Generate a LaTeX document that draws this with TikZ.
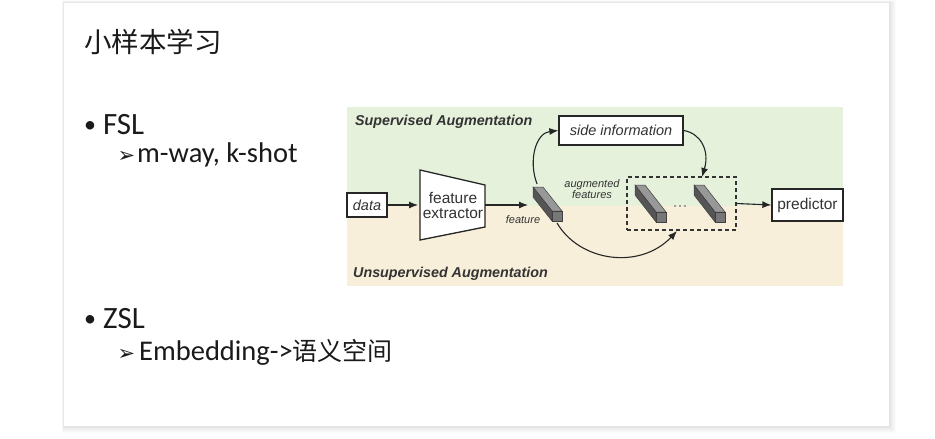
\documentclass[tikz,border=0pt]{standalone}
\usepackage{fontspec}
\setmainfont{Carlito}
\newfontfamily\cjkf{Noto Sans CJK SC}
\newfontfamily\hvf{Liberation Sans}
\newfontfamily\dvf{DejaVu Sans}
\usetikzlibrary{arrows.meta,calc}

\definecolor{sgreen}{HTML}{E5F1DB}
\definecolor{sbeige}{HTML}{F8EFDB}
\definecolor{dtext}{HTML}{333333}
\definecolor{stext}{HTML}{1A1A1A}
\definecolor{rodtop}{HTML}{989898}
\definecolor{rodside}{HTML}{555555}
\definecolor{rodend}{HTML}{777777}

\newcommand\drawrod[4]{%
  \begin{scope}[shift={(#1,#2)}, draw=black!75, line width=0.5pt]
    \filldraw[fill=rodtop] (-10,-10) -- (0,-10) -- (#3,-10+#4) -- (-10+#3,-10+#4) -- cycle;
    \filldraw[fill=rodside] (-10,-10) -- (-10,0) -- (-10+#3,#4) -- (-10+#3,-10+#4) -- cycle;
    \filldraw[fill=rodend] (-10,-10) rectangle (0,0);
  \end{scope}}

\begin{document}
\begin{tikzpicture}[x=1pt,y=-1pt,
  box/.style={draw=black!85, line width=1.3pt, fill=white, inner sep=0pt, text=dtext},
  conn/.style={line width=1.1pt, draw=black!85, -{Latex[length=9pt,width=7pt]}},
  dfont/.style={font=\hvf\fontsize{15.5}{17}\selectfont},
  difont/.style={font=\hvf\itshape\fontsize{14.5}{17}\selectfont},
  sfont/.style={font=\hvf\itshape\fontsize{11}{13}\selectfont, text=dtext, inner sep=0pt},
  regfont/.style={font=\hvf\bfseries\itshape\fontsize{14.3}{17}\selectfont, text=dtext, inner sep=0pt},
  slidetxt/.style={inner sep=0pt, anchor=base west, text=stext},
]
\useasboundingbox (0,0) rectangle (935,439);
\fill[white] (0,0) rectangle (935,439);

% card shadow and card
\foreach \k in {1,...,7}{
  \fill[black, opacity=0.016] (64-\k*0.3, 3-\k*0.4) rectangle (889+\k, 426+\k);
}
\fill[white] (64,3) rectangle (889,426);

% slide texts
\node[slidetxt, font=\cjkf\fontsize{27.5}{30}\selectfont] (title) at (84,52) {小样本学习};
\node[slidetxt, font=\fontsize{24}{28}\selectfont] (b1) at (84,132) {•};
\node[slidetxt, font=\fontsize{31}{34}\selectfont] (fsl) at (103,134) {FSL};
\node[slidetxt, font=\dvf\fontsize{21}{24}\selectfont] (a1) at (117.5,162) {➢};
\node[slidetxt, font=\fontsize{28.5}{32}\selectfont] (mway) at (137,162) {m-way, k-shot};
\node[slidetxt, font=\fontsize{24}{28}\selectfont] (b2) at (84,326) {•};
\node[slidetxt, font=\fontsize{31}{34}\selectfont] (zsl) at (103,328) {ZSL};
\node[slidetxt, font=\dvf\fontsize{21}{24}\selectfont] (a2) at (117.5,360) {➢};
\node[slidetxt, font=\fontsize{28.5}{32}\selectfont] (emb) at (139,360) {Embedding->{\cjkf\fontsize{25}{30}\selectfont 语义空间}};

% diagram background
\fill[sgreen] (347,107) rectangle (843,206);
\fill[sbeige] (347,206) rectangle (843,286);

\node[regfont, anchor=base west] (sup) at (355,125) {Supervised Augmentation};
\node[regfont, anchor=base west] (unsup) at (353,277) {Unsupervised Augmentation};

% data box
\node[box, difont, minimum width=40pt, minimum height=24pt] (data) at (367,205) {data};

% feature extractor
\filldraw[draw=black!85, line width=1.3pt, fill=white] (420,170) -- (485,185) -- (485,227) -- (420,240) -- cycle;
\node[dfont, text=dtext, align=center, inner sep=0pt] (fe) at (453,205) {feature\\[-2pt]extractor};
\coordinate (feW) at (418,205);
\coordinate (feE) at (485,205);

% rods
\drawrod{562}{221}{-19}{-24}
\drawrod{666}{222}{-21}{-27}
\drawrod{725}{222}{-21}{-27}
\coordinate (rodin) at (528,205);
\coordinate (rodtopc) at (537,184);
\coordinate (rodbot) at (557,223);

\node[sfont] (featlab) at (523,220) {feature};
\node[sfont, align=center] (auglab) at (592,189) {augmented\\[-1.5pt]features};

% dots
\foreach \xx in {675,680,685}{\fill[black!70] (\xx,206) circle (0.9pt);}

% dashed box
\node[draw=black!80, line width=1.1pt, dash pattern=on 4pt off 3pt, minimum width=109pt, minimum height=53pt, inner sep=0pt] (aug) at (681.5,203.5) {};
\coordinate (augtop) at (702,177);
\coordinate (augbot) at (677,231);

% side information
\node[box, difont, minimum width=124pt, minimum height=29pt] (side) at (621,130.5) {side information};

% predictor
\node[box, dfont, minimum width=71pt, minimum height=32pt] (pred) at (807.5,205) {predictor};

% connectors
\draw[conn] (data.east) -- (feW);
\draw[conn] (feE) -- (rodin);
\draw[conn] (rodtopc) .. controls (528,160) and (536,133) .. (side.west);
\draw[conn] (side.east) .. controls (700,133) and (710,150) .. (augtop);
\draw[conn] (rodbot) .. controls (580,262) and (640,270) .. (augbot);
\draw[conn] (aug.east) -- (pred.west);
\end{tikzpicture}
\end{document}
